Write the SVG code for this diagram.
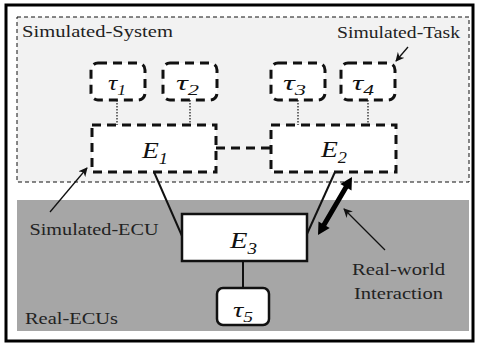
<svg xmlns="http://www.w3.org/2000/svg" width="478" height="344" viewBox="0 0 478 344" font-family="'Liberation Serif', 'Times New Roman', 'DejaVu Serif', serif">
<defs>
<style>
.lbl{font-family:'Liberation Serif','Times New Roman','DejaVu Serif',serif;font-size:17px;fill:#222}
.sym{font-family:'Liberation Serif','Times New Roman','DejaVu Serif',serif;font-style:italic;fill:#111}
.dtask{fill:#fff;stroke:#111;stroke-width:3;stroke-dasharray:9,6}
.decu{fill:#fff;stroke:#111;stroke-width:3;stroke-dasharray:9,6}
.dot{stroke:#111;stroke-width:1.2;stroke-dasharray:1.5,1.5;fill:none}
.thin{stroke:#111;stroke-width:1.3;fill:none}
.solid{stroke:#111;stroke-width:2;fill:none}
</style>
<marker id="ah" viewBox="0 0 10 10" refX="9" refY="5" markerWidth="9" markerHeight="9" markerUnits="userSpaceOnUse" orient="auto">
<path d="M0,0 L10,5 L0,10 L3,5 z" fill="#111"/>
</marker>
</defs>
<rect x="0" y="0" width="478" height="344" fill="#fff"/>
<rect x="6" y="5" width="467" height="336" fill="#fff" stroke="#000" stroke-width="3"/>
<g id="simulated-system">
<rect x="17" y="17" width="452" height="165" fill="#f2f2f2" stroke="#111" stroke-width="1" stroke-dasharray="4,3"/>
<text class="lbl" x="22" y="37" textLength="151" lengthAdjust="spacingAndGlyphs">Simulated-System</text>
</g>
<g id="real-ecus">
<rect x="17" y="200" width="452" height="131" fill="#a6a6a6"/>
<text class="lbl" x="25" y="324" textLength="93" lengthAdjust="spacingAndGlyphs">Real-ECUs</text>
</g>
<g id="connectors">
<line class="dot" x1="117" y1="100" x2="117" y2="125"/>
<line class="dot" x1="190" y1="100" x2="190" y2="125"/>
<line class="dot" x1="298" y1="100" x2="298" y2="125"/>
<line class="dot" x1="368" y1="100" x2="368" y2="125"/>
<line x1="216" y1="148" x2="271" y2="148" stroke="#111" stroke-width="3" stroke-dasharray="9,6"/>
<line class="solid" x1="154" y1="172" x2="182" y2="236"/>
<line class="solid" x1="335" y1="172" x2="307" y2="234"/>
<line class="solid" x1="243" y1="261" x2="243" y2="288"/>
<polygon fill="#000" points="352,177 351.5,190.6 348.1,188.6 326.2,225.9 329.7,227.9 318,235 318.5,221.4 321.9,223.4 343.8,186.1 340.3,184.1"/>
<line class="thin" x1="408" y1="47" x2="396" y2="61" marker-end="url(#ah)"/>
<line class="thin" x1="50" y1="212" x2="87" y2="168" marker-end="url(#ah)"/>
<line class="thin" x1="385" y1="250" x2="344" y2="209" marker-end="url(#ah)"/>
</g>
<g id="tau1">
<rect class="dtask" x="91" y="63" width="54" height="37" rx="7"/>
<text class="sym" x="108" y="90" font-size="22" textLength="18" lengthAdjust="spacingAndGlyphs">τ<tspan font-size="15" dy="5">1</tspan></text>
</g>
<g id="tau2">
<rect class="dtask" x="163" y="63" width="54" height="37" rx="7"/>
<text class="sym" x="176" y="90" font-size="22" textLength="23" lengthAdjust="spacingAndGlyphs">τ<tspan font-size="15" dy="5">2</tspan></text>
</g>
<g id="tau3">
<rect class="dtask" x="271" y="63" width="54" height="37" rx="7"/>
<text class="sym" x="283" y="90" font-size="22" textLength="23" lengthAdjust="spacingAndGlyphs">τ<tspan font-size="15" dy="5">3</tspan></text>
</g>
<g id="tau4">
<rect class="dtask" x="341" y="63" width="54" height="37" rx="7"/>
<text class="sym" x="352" y="90" font-size="22" textLength="22" lengthAdjust="spacingAndGlyphs">τ<tspan font-size="15" dy="5">4</tspan></text>
</g>
<g id="e1">
<rect class="decu" x="92" y="125" width="124" height="47"/>
<text class="sym" x="142" y="158" font-size="24" textLength="26" lengthAdjust="spacingAndGlyphs">E<tspan font-size="16" dy="6">1</tspan></text>
</g>
<g id="e2">
<rect class="decu" x="271" y="125" width="125" height="47"/>
<text class="sym" x="321" y="157" font-size="24" textLength="26" lengthAdjust="spacingAndGlyphs">E<tspan font-size="16" dy="6">2</tspan></text>
</g>
<g id="e3">
<rect x="182" y="214" width="125" height="47" fill="#fff" stroke="#111" stroke-width="2.5"/>
<text class="sym" x="230" y="248" font-size="24" textLength="27" lengthAdjust="spacingAndGlyphs">E<tspan font-size="16" dy="6">3</tspan></text>
</g>
<g id="tau5">
<rect x="217" y="288" width="52" height="37" rx="6" fill="#fff" stroke="#111" stroke-width="2.5"/>
<text class="sym" x="233" y="317" font-size="22" textLength="20" lengthAdjust="spacingAndGlyphs">τ<tspan font-size="15" dy="5">5</tspan></text>
</g>
<text class="lbl" x="337" y="38" textLength="123" lengthAdjust="spacingAndGlyphs">Simulated-Task</text>
<text class="lbl" x="29.5" y="235" textLength="129" lengthAdjust="spacingAndGlyphs">Simulated-ECU</text>
<text class="lbl" x="352" y="275" textLength="93" lengthAdjust="spacingAndGlyphs">Real-world</text>
<text class="lbl" x="354" y="299" textLength="89" lengthAdjust="spacingAndGlyphs">Interaction</text>
</svg>
